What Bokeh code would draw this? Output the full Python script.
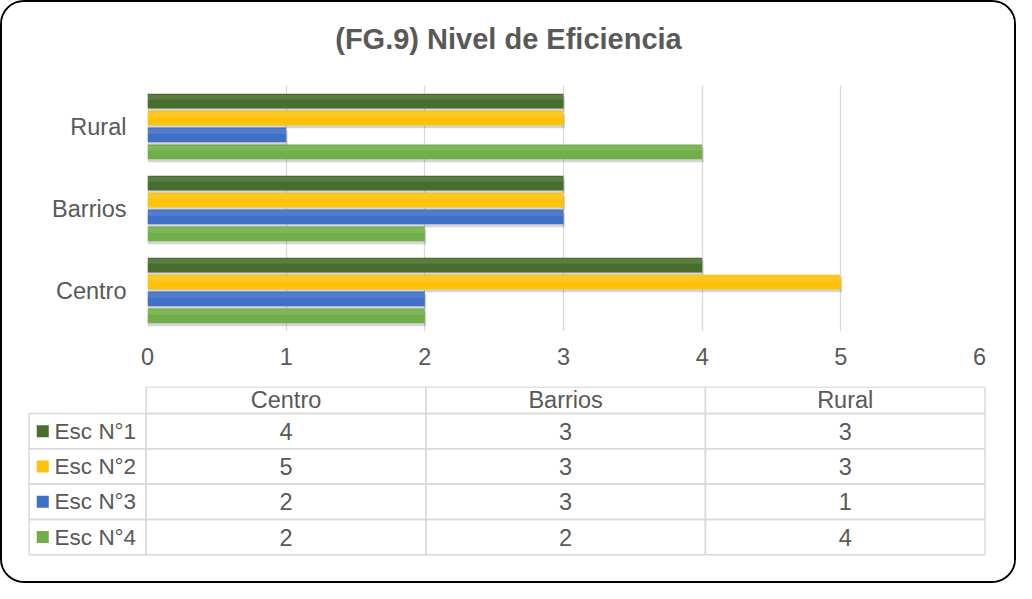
from bokeh.plotting import figure
from bokeh.models import Range1d, FactorRange, FixedTicker, ColumnDataSource
from bokeh.transform import dodge
from bokeh.layouts import column
from bokeh.embed import file_html
from bokeh.resources import INLINE
from bokeh.core.properties import value

# ---------------- data ----------------
categories = ["Centro", "Barrios", "Rural"]
series = ["Esc N°1", "Esc N°2", "Esc N°3", "Esc N°4"]
esc1 = [4, 3, 3]
esc2 = [5, 3, 3]
esc3 = [2, 3, 1]
esc4 = [2, 2, 4]
x_ticks = [0, 1, 2, 3, 4, 5, 6]
title_text = "(FG.9) Nivel de Eficiencia"

# ---------------- style ----------------
colors = ["#476E2D", "#FEC20C", "#3F6FC6", "#71AE48"]
FONT = "Liberation Sans"
TXT = "#595959"
GRID = "#D9D9D9"

series_values = [esc1, esc2, esc3, esc4]
keys = ["e1", "e2", "e3", "e4"]
offsets = [0.31, 0.103, -0.103, -0.31]
bar_h = 0.18

src = ColumnDataSource(dict(cat=categories, e1=esc1, e2=esc2, e3=esc3, e4=esc4))

# ---------------- title strip ----------------
pT = figure(width=1012, height=60, x_range=Range1d(0, 1), y_range=Range1d(60, 0),
            output_backend="svg", toolbar_location=None, x_axis_type=None, y_axis_type=None,
            min_border=0, outline_line_color=None, border_fill_color="white",
            background_fill_color="white")
pT.text(x=[0.5], y=[36], text=[title_text], text_align="center", text_baseline="middle",
        text_font=value(FONT), text_font_size="29px", text_font_style="bold", text_color=TXT)

# ---------------- bar chart ----------------
pA = figure(width=1012, height=324, y_range=FactorRange(*categories), x_range=Range1d(0, 6),
            output_backend="svg", toolbar_location=None,
            min_border_left=145, min_border_right=35, min_border_top=23, min_border_bottom=55,
            outline_line_color=None, border_fill_color="white", background_fill_color="white")

for k, off in zip(keys, offsets):
    pA.hbar(y=dodge("cat", off - 0.035, range=pA.y_range), left=0,
            right=dodge(k, 0.01, range=pA.x_range), height=bar_h,
            fill_color="#404040", fill_alpha=0.22, line_color=None, source=src)
for k, off, c in zip(keys, offsets, colors):
    pA.hbar(y=dodge("cat", off, range=pA.y_range), left=0, right=k, height=bar_h,
            fill_color=c, line_color=None, source=src)
    pA.hbar(y=dodge("cat", off + 0.045, range=pA.y_range), left=0, right=k, height=0.06,
            fill_color="white", fill_alpha=0.10, line_color=None, source=src)

pA.xaxis.ticker = FixedTicker(ticks=x_ticks)
pA.xgrid.ticker = FixedTicker(ticks=x_ticks)
pA.xgrid.grid_line_color = GRID
pA.xgrid.grid_line_width = 1.3
pA.ygrid.grid_line_color = None
for ax in (pA.xaxis, pA.yaxis):
    ax.axis_line_color = None
    ax.major_tick_line_color = None
    ax.minor_tick_line_color = None
    ax.major_tick_out = 0
    ax.major_tick_in = 0
    ax.major_label_text_font = FONT
    ax.major_label_text_font_size = "23.5px"
    ax.major_label_text_color = TXT
pA.xaxis.major_label_standoff = 16
pA.yaxis.major_label_standoff = 21

# ---------------- data table ----------------
# x: column index (~280 px per column); y: row index (~35 px per row), downward
pB = figure(width=1012, height=195, x_range=Range1d(-1.014, 2.6055), y_range=Range1d(4.759, -0.765),
            output_backend="svg", toolbar_location=None, x_axis_type=None, y_axis_type=None,
            min_border=0, outline_line_color=None, border_fill_color="white",
            background_fill_color="white")

for p in (pT, pA, pB):
    if "frame_align" in p.properties():
        p.frame_align = False

leg_left = -0.919
hdr_top = -0.75

cell_l, cell_r, cell_t, cell_b = [], [], [], []
for j, cat in enumerate(categories):
    cell_l.append(j - 0.5); cell_r.append(j + 0.5); cell_t.append(hdr_top); cell_b.append(0)
for i, name in enumerate(series):
    cell_l.append(leg_left); cell_r.append(-0.5); cell_t.append(i); cell_b.append(i + 1)
    for j in range(len(categories)):
        cell_l.append(j - 0.5); cell_r.append(j + 0.5); cell_t.append(i); cell_b.append(i + 1)
pB.quad(left=cell_l, right=cell_r, top=cell_t, bottom=cell_b,
        fill_color=None, line_color=GRID, line_width=1.5)

pB.text(x=list(range(len(categories))), y=[hdr_top / 2] * len(categories), text=categories,
        text_align="center", text_baseline="middle", text_font=value(FONT),
        text_font_size="23.5px", text_color=TXT)

vx, vy, vt = [], [], []
for i, vals in enumerate(series_values):
    for j, v in enumerate(vals):
        vx.append(j); vy.append(i + 0.5); vt.append(str(v))
pB.text(x=vx, y=vy, text=vt, text_align="center", text_baseline="middle",
        text_font=value(FONT), text_font_size="23.5px", text_color=TXT)

rows = [i + 0.5 for i in range(len(series))]
pB.rect(x=[-0.870] * len(series), y=rows, width=12, height=12, width_units="screen",
        height_units="screen", fill_color=colors, line_color=None)
pB.text(x=[-0.8276] * len(series), y=rows, text=series, text_align="left", text_baseline="middle",
        text_font=value(FONT), text_font_size="22.5px", text_color=TXT)

layout = column(pT, pA, pB, spacing=0,
                styles={"border": "2px solid #000000", "border-radius": "24px",
                        "background-color": "white", "overflow": "hidden"})

open("out.html", "w").write(file_html(layout, INLINE))
